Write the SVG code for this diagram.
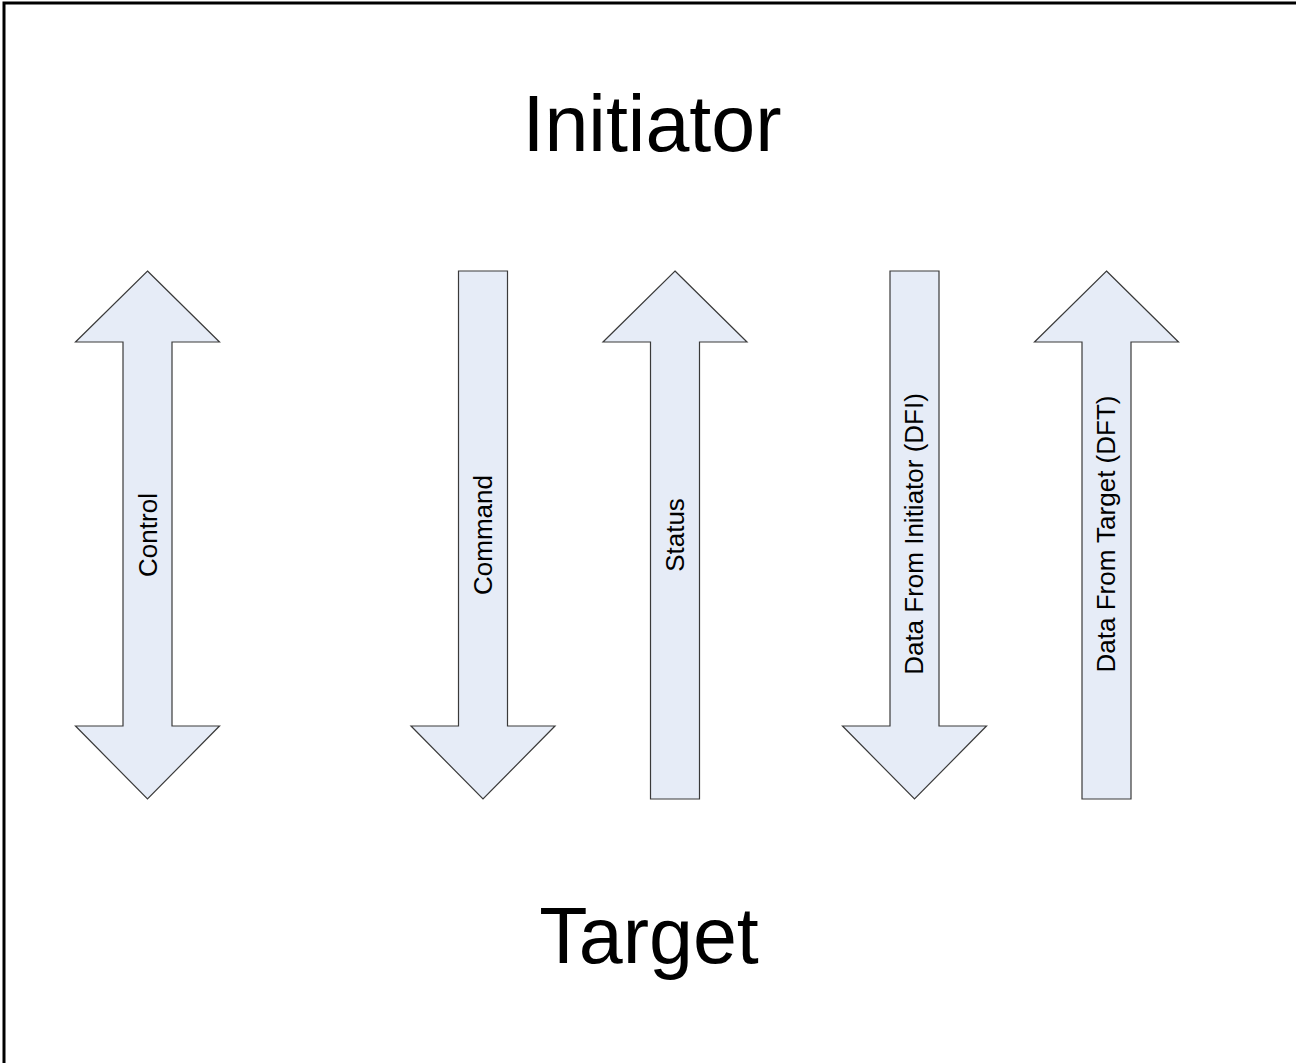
<svg xmlns="http://www.w3.org/2000/svg" width="1296" height="1063" viewBox="0 0 1296 1063">
<style>
.arr{fill:#E6ECF7;stroke:#3a3a3a;stroke-width:1.2;stroke-linejoin:miter}
.lbl{font-family:"Liberation Sans",Arial,sans-serif;font-size:26px;fill:#000;text-anchor:middle}
.big{font-family:"Liberation Sans",Arial,sans-serif;font-size:79px;fill:#000;text-anchor:middle}
</style>
<rect x="0" y="0" width="1296" height="1063" fill="#fff"/>
<rect x="4" y="3" width="1320" height="1100" fill="none" stroke="#000" stroke-width="3"/>
<g id="initiator"><text class="big" x="652" y="151">Initiator</text></g>
<g id="target"><text class="big" x="649" y="963">Target</text></g>
<g id="connectors">
<g id="control">
<polygon class="arr" points="147.5,271 219.5,342 172,342 172,726 219.5,726 147.5,799 75.5,726 123,726 123,342 75.5,342"/>
<text class="lbl" transform="translate(156.5,535) rotate(-90)">Control</text>
</g>
<g id="command">
<polygon class="arr" points="458.5,271 507.5,271 507.5,726 555,726 483,799 411,726 458.5,726"/>
<text class="lbl" transform="translate(492,535) rotate(-90)">Command</text>
</g>
<g id="status">
<polygon class="arr" points="675,271 747,342 699.5,342 699.5,799 650.5,799 650.5,342 603,342"/>
<text class="lbl" transform="translate(684,535) rotate(-90)">Status</text>
</g>
<g id="dfi">
<polygon class="arr" points="890,271 939,271 939,726 986.5,726 914.5,799 842.5,726 890,726"/>
<text class="lbl" transform="translate(923,534) rotate(-90)">Data From Initiator (DFI)</text>
</g>
<g id="dft">
<polygon class="arr" points="1106.5,271 1178.5,342 1131,342 1131,799 1082,799 1082,342 1034.5,342"/>
<text class="lbl" transform="translate(1115,534) rotate(-90)">Data From Target (DFT)</text>
</g>
</g>
</svg>
